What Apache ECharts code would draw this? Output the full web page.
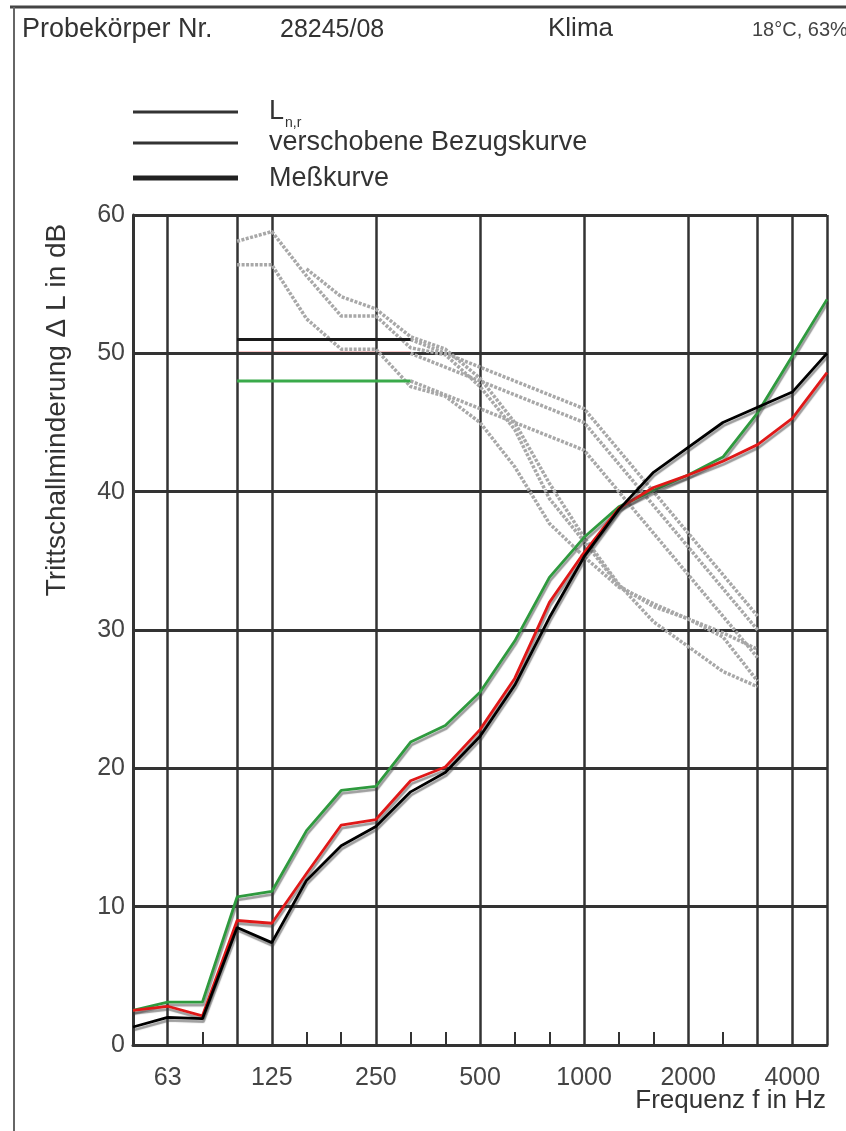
<!DOCTYPE html>
<html>
<head>
<meta charset="utf-8">
<script src="https://cdn.jsdelivr.net/npm/echarts@6/dist/echarts.min.js"></script>
<style>
html, body { margin: 0; padding: 0; background: #fff; }
#chart { width: 846px; height: 1131px; }
</style>
</head>
<body>
<div id="chart"></div>
<script>
// Terzbaender 50 .. 5000 Hz
var bands = ['50','63','80','100','125','160','200','250','315','400','500','630','800','1000','1250','1600','2000','2500','3150','4000','5000'];
var labelBands = ['63','125','250','500','1000','2000','4000'];
var gridBands = ['50','63','100','125','250','500','1000','2000','3150','4000','5000'];
var refBands = bands.slice(3, 19); // 100 .. 3150 Hz

// Messkurven (Trittschallminderung in dB)
var messBlack = [1.3, 2.0, 1.9, 8.5, 7.4, 11.9, 14.4, 15.8, 18.3, 19.7, 22.3, 26.0, 30.9, 35.3, 38.7, 41.4, 43.2, 45.0, 46.1, 47.2, 50.0];
var messRed   = [2.5, 2.8, 2.1, 9.0, 8.8, 12.4, 15.9, 16.3, 19.1, 20.1, 22.8, 26.5, 32.0, 35.6, 38.8, 40.3, 41.2, 42.2, 43.4, 45.3, 48.6];
var messGreen = [2.5, 3.1, 3.1, 10.7, 11.1, 15.5, 18.4, 18.7, 21.9, 23.1, 25.5, 29.2, 33.8, 36.7, 38.9, 40.1, 41.2, 42.5, 45.7, 49.8, 53.9];

// L_n,r (100 .. 3150 Hz), schwarz erst ab 160 Hz sichtbar
var lnrBlack = [null, null, 56.1, 54.1, 53.2, 51.2, 50.3, 48.2, 45.0, 40.6, 36.7, 33.3, 30.6, 28.8, 27.0, 25.9];
var lnrRed   = [58.1, 58.8, 55.6, 52.7, 52.7, 50.4, 49.9, 47.6, 44.5, 39.5, 36.4, 33.2, 31.7, 30.8, 29.8, 28.6];
var lnrGreen = [56.4, 56.4, 52.5, 50.3, 50.3, 47.6, 46.9, 45.0, 41.8, 37.7, 35.3, 33.1, 31.9, 30.8, 29.5, 26.3];

// verschobene Bezugskurven (100 .. 3150 Hz)
var refBlack = [51, 51, 51, 51, 51, 51, 50, 49, 48, 47, 46, 43, 40, 37, 34, 31];
var refRed   = [50, 50, 50, 50, 50, 50, 49, 48, 47, 46, 45, 42, 39, 36, 33, 30];
var refGreen = [48, 48, 48, 48, 48, 48, 47, 46, 45, 44, 43, 40, 37, 34, 31, 28];

var FONT = "'Liberation Sans', Arial, sans-serif";
var chart = echarts.init(document.getElementById('chart'));

function pairs(vals, from, to) {
	var out = [];
	for (var i = from; i < to; i++) out.push([refBands[i], vals[i]]);
	return out;
}

function grayLine(name, data) {
	return {
		name: name, type: 'line', data: data, symbol: 'none', z: 3,
		lineStyle: { color: '#a8a8a8', width: 3.5, type: [3, 1.5] }
	};
}

function flatLine(name, data, color, z) {
	return {
		name: name, type: 'line', data: data, symbol: 'none', z: z,
		lineStyle: { color: color, width: 3 }
	};
}

function messLine(name, data, color, z) {
	return {
		name: name, type: 'line', data: data, symbol: 'none', z: z,
		lineStyle: {
			color: color, width: 2.8,
			shadowColor: 'rgba(60,60,60,0.5)', shadowBlur: 1,
			shadowOffsetX: 1, shadowOffsetY: 3
		}
	};
}

var option = {
	animation: false,
	backgroundColor: '#fff',
	textStyle: { fontFamily: FONT },
	grid: { left: 133, right: 19, top: 215, bottom: 86 },
	xAxis: {
		type: 'category',
		data: bands,
		boundaryGap: false,
		axisLine: { show: true, lineStyle: { color: '#333', width: 3 } },
		axisTick: {
			show: true, inside: true, length: 13,
			interval: function (idx, val) { return gridBands.indexOf(val) < 0; },
			lineStyle: { color: '#333', width: 2 }
		},
		axisLabel: {
			interval: function (idx, val) { return labelBands.indexOf(val) >= 0; },
			fontSize: 25, color: '#444', margin: 21, fontFamily: FONT
		},
		splitLine: {
			show: true,
			interval: function (idx, val) { return gridBands.indexOf(val) >= 0; },
			lineStyle: { color: '#333', width: 2.5 }
		}
	},
	yAxis: {
		type: 'value',
		min: 0, max: 60, interval: 10,
		axisLine: { show: true, lineStyle: { color: '#333', width: 3 } },
		axisTick: { show: false },
		axisLabel: { fontSize: 25, color: '#444', margin: 8, fontFamily: FONT },
		splitLine: { show: true, lineStyle: { color: '#333', width: 3 } }
	},
	series: [
		grayLine('Lnr schwarz', pairs(lnrBlack, 0, 16)),
		grayLine('Lnr rot', pairs(lnrRed, 0, 16)),
		grayLine('Lnr gruen', pairs(lnrGreen, 0, 16)),
		grayLine('Bezug schwarz', pairs(refBlack, 5, 16)),
		grayLine('Bezug rot', pairs(refRed, 5, 16)),
		grayLine('Bezug gruen', pairs(refGreen, 5, 16)),
		flatLine('Bezug schwarz flach', pairs(refBlack, 0, 6), '#1a1a1a', 4),
		flatLine('Bezug rot flach', pairs(refRed, 0, 6), '#e02020', -1),
		flatLine('Bezug gruen flach', pairs(refGreen, 0, 6), '#3aaa4a', 4),
		messLine('Messung gruen', messGreen, '#2e9a3e', 5),
		messLine('Messung rot', messRed, '#e01818', 6),
		messLine('Messung schwarz', messBlack, '#000', 7)
	],
	graphic: [
		// Rahmen
		{ type: 'line', shape: { x1: 10, y1: 7, x2: 846, y2: 7 }, style: { stroke: '#444', lineWidth: 3 } },
		{ type: 'line', shape: { x1: 14, y1: 7, x2: 14, y2: 1131 }, style: { stroke: '#666', lineWidth: 2 } },
		// Kopfzeile
		{ type: 'text', left: 22, top: 16, style: { text: 'Probekörper Nr.', font: '27px ' + FONT, fill: '#333' } },
		{ type: 'text', left: 280, top: 18, style: { text: '28245/08', font: '25px ' + FONT, fill: '#333' } },
		{ type: 'text', left: 548, top: 16, style: { text: 'Klima', font: '26px ' + FONT, fill: '#333' } },
		{ type: 'text', left: 752, top: 20, style: { text: '18°C, 63%', font: '20px ' + FONT, fill: '#444' } },
		// Legende
		{ type: 'line', shape: { x1: 133, y1: 112, x2: 238, y2: 112 }, style: { stroke: '#333', lineWidth: 3 } },
		{ type: 'line', shape: { x1: 133, y1: 143, x2: 238, y2: 143 }, style: { stroke: '#333', lineWidth: 3 } },
		{ type: 'line', shape: { x1: 133, y1: 178, x2: 238, y2: 178 }, style: { stroke: '#222', lineWidth: 5 } },
		{ type: 'text', left: 269, top: 98, style: { text: 'L', font: '27px ' + FONT, fill: '#333' } },
		{ type: 'text', left: 285, top: 116, style: { text: 'n,r', font: '14px ' + FONT, fill: '#333' } },
		{ type: 'text', left: 269, top: 129, style: { text: 'verschobene Bezugskurve', font: '27px ' + FONT, fill: '#333' } },
		{ type: 'text', left: 269, top: 165, style: { text: 'Meßkurve', font: '27px ' + FONT, fill: '#333' } },
		// Achsentitel
		{
			type: 'text', x: 57, y: 410, rotation: Math.PI / 2,
			style: { text: 'Trittschallminderung Δ L in dB', font: '28px ' + FONT, fill: '#333', align: 'center', verticalAlign: 'middle' }
		},
		{ type: 'text', right: 20, top: 1088, style: { text: 'Frequenz f in Hz', font: '26px ' + FONT, fill: '#333' } }
	]
};

chart.setOption(option);
</script>
</body>
</html>
